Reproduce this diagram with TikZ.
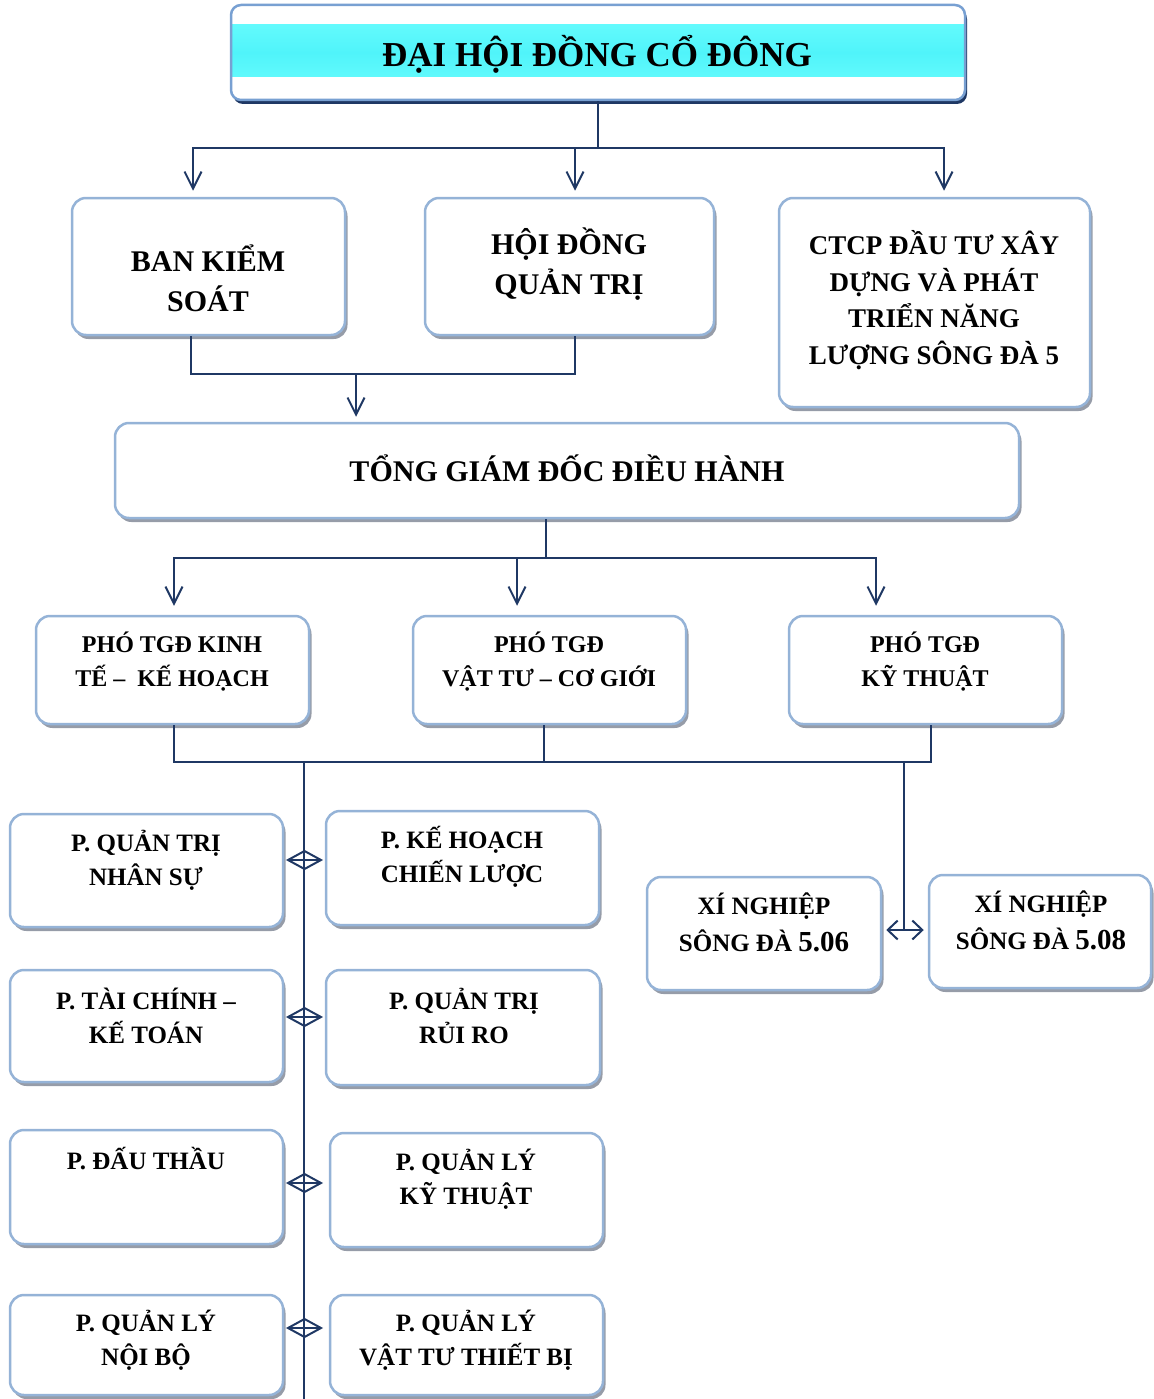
\documentclass[tikz,border=0pt]{standalone}
\usepackage{fontspec}
\setmainfont{Liberation Serif}
\usetikzlibrary{arrows.meta,shadows,calc}
\definecolor{navy}{RGB}{31,56,100}
\definecolor{boxblue}{RGB}{149,179,215}
\definecolor{topblue}{RGB}{120,160,210}
\definecolor{cyanA}{RGB}{112,255,255}
\definecolor{cyanB}{RGB}{80,244,250}
\definecolor{shgray}{RGB}{150,156,168}
\begin{document}
\begin{tikzpicture}[x=1pt,y=-1pt,
  box/.style={draw=boxblue,line width=2.5pt,rounded corners=14pt,fill=white,inner sep=0pt,
    drop shadow={shadow xshift=2.5pt,shadow yshift=-4pt,fill=shgray,opacity=1}},
  topbox/.style={draw=topblue,line width=2.5pt,rounded corners=10pt,fill=white,inner sep=0pt,
    drop shadow={shadow xshift=2pt,shadow yshift=-4pt,fill=navy,opacity=1},
    path picture={\shade[sharp corners,top color=cyanA,bottom color=cyanA,middle color=cyanB]
      ([yshift=-20pt]path picture bounding box.north west) rectangle
      ([yshift=23pt]path picture bounding box.south east);}},
  txt/.style={font=\bfseries\fontsize{25}{34}\selectfont,align=center,inner sep=0pt},
  bigtxt/.style={font=\bfseries\fontsize{30}{40}\selectfont,align=center,inner sep=0pt},
  conn/.style={draw=navy,line width=2pt},
  arr/.style={conn,-{Straight Barb[length=17pt,width=17pt]}},
  biarr/.style={conn,{Straight Barb[length=10pt,width=19pt]}-{Straight Barb[length=10pt,width=19pt]}},
  dia/.style={conn,line join=miter}
]
\useasboundingbox (0,0) rectangle (1153,1399);

% ---------- boxes ----------
\node[topbox,minimum width=734pt,minimum height=95pt] (dh) at (598,52.5) {};
\node[box,minimum width=273pt,minimum height=137pt] (bks) at (208.5,266.5) {};
\node[box,minimum width=289pt,minimum height=137pt] (hdqt) at (569.5,266.5) {};
\node[box,minimum width=311pt,minimum height=209pt] (ctcp) at (934.5,302.5) {};
\node[box,minimum width=904pt,minimum height=95pt] (tgd) at (567,470.5) {};
\node[box,minimum width=273pt,minimum height=108pt] (pk) at (172.5,670) {};
\node[box,minimum width=273pt,minimum height=108pt] (pv) at (549.5,670) {};
\node[box,minimum width=273pt,minimum height=108pt] (pkt) at (925.5,670) {};
\node[box,minimum width=273pt,minimum height=113pt] (l1) at (146.5,870.5) {};
\node[box,minimum width=273pt,minimum height=112pt] (l2) at (146.5,1026) {};
\node[box,minimum width=273pt,minimum height=114pt] (l3) at (146.5,1187) {};
\node[box,minimum width=273pt,minimum height=100pt] (l4) at (146.5,1345) {};
\node[box,minimum width=273pt,minimum height=114pt] (r1) at (462.5,868) {};
\node[box,minimum width=274pt,minimum height=115pt] (r2) at (463,1027.5) {};
\node[box,minimum width=273pt,minimum height=114pt] (r3) at (466.5,1190) {};
\node[box,minimum width=273pt,minimum height=100pt] (r4) at (466.5,1345) {};
\node[box,minimum width=234pt,minimum height=113pt] (xn6) at (764,933.5) {};
\node[box,minimum width=222pt,minimum height=113pt] (xn8) at (1040,931.5) {};

% ---------- texts ----------
\node[font=\bfseries\fontsize{35}{40}\selectfont,inner sep=0pt] (tdh) at (597,54) {ĐẠI HỘI ĐỒNG CỔ ĐÔNG};
\node[bigtxt] (tbks) at (208,278) {BAN KIỂM\\SOÁT};
\node[bigtxt] (thdqt) at (569,264) {HỘI ĐỒNG\\QUẢN TRỊ};
\node[txt,font=\bfseries\fontsize{27}{36.5}\selectfont] (tctcp) at (934,300) {CTCP ĐẦU TƯ XÂY\\DỰNG VÀ PHÁT\\TRIỂN NĂNG\\LƯỢNG SÔNG ĐÀ 5};
\node[bigtxt] (ttgd) at (567,468) {TỔNG GIÁM ĐỐC ĐIỀU HÀNH};
\node[txt,font=\bfseries\fontsize{24}{34}\selectfont] (tpk) at (172,662) {PHÓ TGĐ KINH\\TẾ –\ \ KẾ HOẠCH};
\node[txt,font=\bfseries\fontsize{24}{34}\selectfont] (tpv) at (549,662) {PHÓ TGĐ\\VẬT TƯ – CƠ GIỚI};
\node[txt,font=\bfseries\fontsize{24}{34}\selectfont] (tpkt) at (925,662) {PHÓ TGĐ\\KỸ THUẬT};
\node[txt] (tl1) at (146,860) {P. QUẢN TRỊ\\NHÂN SỰ};
\node[txt] (tr1) at (462,857) {P. KẾ HOẠCH\\CHIẾN LƯỢC};
\node[txt] (tl2) at (146,1016) {P. TÀI CHÍNH –\\KẾ TOÁN};
\node[txt] (tr2) at (464,1016) {P. QUẢN TRỊ\\RỦI RO};
\node[txt] (tl3) at (146,1159) {P. ĐẤU THẦU};
\node[txt] (tr3) at (466,1179) {P. QUẢN LÝ\\KỸ THUẬT};
\node[txt] (tl4) at (146,1340) {P. QUẢN LÝ\\NỘI BỘ};
\node[txt] (tr4) at (466,1340) {P. QUẢN LÝ\\VẬT TƯ THIẾT BỊ};
\node[txt,font=\bfseries\fontsize{25}{37}\selectfont] (txn6) at (764,922) {XÍ NGHIỆP\\SÔNG ĐÀ {\fontsize{29}{37}\selectfont 5.06}};
\node[txt,font=\bfseries\fontsize{25}{37}\selectfont] (txn8) at (1041,920) {XÍ NGHIỆP\\SÔNG ĐÀ {\fontsize{29}{37}\selectfont 5.08}};

% ---------- connectors ----------
\coordinate (j1) at (598,148);
\draw[conn] (dh.south) -- (j1);
\draw[arr,shorten >=6pt] (j1) -| ([xshift=-15.5pt]bks.north);
\draw[arr,shorten >=6pt] (j1) -| ([xshift=5.5pt]hdqt.north);
\draw[arr,shorten >=6pt] (j1) -| ([xshift=9.5pt]ctcp.north);

\coordinate (j2) at (356,374);
\draw[conn] ([xshift=-17.5pt]bks.south) |- (j2) -| ([xshift=5.5pt]hdqt.south);
\draw[arr,shorten >=5pt] (j2) -- (j2 |- tgd.north);

\coordinate (j3) at (546,558);
\draw[conn] (j3 |- tgd.south) -- (j3);
\draw[arr,shorten >=9pt] (j3) -| ([xshift=1.5pt]pk.north);
\draw[arr,shorten >=9pt] (j3) -| ([xshift=-32.5pt]pv.north);
\draw[arr,shorten >=9pt] (j3) -| ([xshift=-49.5pt]pkt.north);

\coordinate (j4) at (544,762);
\draw[conn] ([xshift=1.5pt]pk.south) |- (j4) -| ([xshift=5.5pt]pkt.south);
\draw[conn] ([xshift=-5.5pt]pv.south) -- (j4);

\coordinate (b1) at (304,762);
\coordinate (b2) at (304,1399);
\draw[conn] (b1) -- (b2);
\coordinate (c1) at (904,762);
\coordinate (c2) at (904,930);
\draw[conn] (c1) -- (c2);
\draw[biarr] ([xshift=4pt]xn6.east |- c2) -- ([xshift=-4pt]xn8.west |- c2);

% diamonds (double-headed open arrows)
\foreach \n/\yy in {1/860,2/1017,3/1183,4/1328}{
  \coordinate (d\n a) at (288,\yy);
  \coordinate (d\n b) at (321,\yy);
  \draw[dia] (d\n a) -- ($(d\n a)!0.5!(d\n b)+(0,-9)$) -- (d\n b) -- ($(d\n a)!0.5!(d\n b)+(0,9)$) -- cycle;
  \draw[conn] (d\n a) -- (d\n b);
}
\end{tikzpicture}
\end{document}
